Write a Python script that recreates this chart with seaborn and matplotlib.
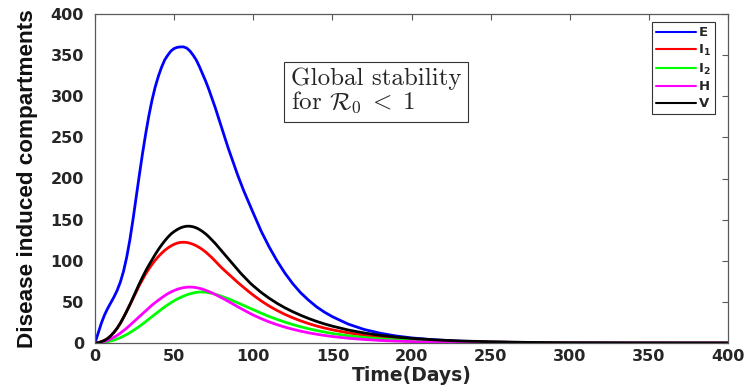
import numpy as np
import pandas as pd
import matplotlib
matplotlib.use("Agg")
import matplotlib.pyplot as plt
import seaborn as sns
from matplotlib.lines import Line2D

# ---- data ----
t = [0, 2, 4, 6, 8, 10, 12, 14, 16, 18,
     20, 22, 24, 26, 28, 30, 32, 34, 36, 38,
     40, 42, 44, 46, 48, 50, 52, 54, 56, 58,
     60, 62, 64, 66, 68, 70, 72, 74, 76, 78,
     80, 82, 84, 86, 88, 90, 92, 94, 96, 98,
     100, 105, 110, 115, 120, 125, 130, 135, 140, 145,
     150, 160, 170, 180, 190, 200, 215, 230, 250, 275,
     300, 350, 400]
E = [0, 12, 24, 34, 42, 49, 56, 64, 74, 87,
     104, 125, 150, 177, 204, 230, 254, 276, 295, 311,
     324, 335, 344, 350, 355, 358, 359.5, 360, 360, 358.5,
     355, 350, 344, 336, 327, 318, 308, 297, 286, 274,
     262, 250, 238, 227, 216, 205, 195, 185, 176, 167,
     158, 136, 117, 100, 85, 72, 61, 52, 44, 37.5,
     32, 23, 16.5, 12, 8.6, 6.2, 3.8, 2.3, 1.1, 0.45,
     0.2, 0.04, 0]
I1 = [0, 0.4, 1.5, 3.2, 5.5, 8.8, 13, 18, 24, 31,
      38.5, 46, 54, 62, 70, 77, 84, 90, 95.5, 100.5,
      105, 109, 112.5, 115.5, 118, 120, 121.5, 122.3, 122.5, 122.2,
      121.3, 120, 118.2, 116, 113.5, 110.5, 107, 103.5, 99.5, 95.5,
      91.5, 88, 84.5, 81, 77.5, 74, 70.7, 67.5, 64.3, 61.2,
      58.2, 51.2, 45, 39.6, 34.8, 30.6, 26.9, 23.6, 20.7, 18.2,
      16, 12.3, 9.5, 7.3, 5.6, 4.3, 2.9, 1.9, 1.1, 0.5,
      0.22, 0.04, 0]
I2 = [0, 0.1, 0.4, 0.9, 1.6, 2.5, 3.6, 5, 6.5, 8.3,
      10.3, 12.5, 15, 17.5, 20.2, 23, 26, 29, 32, 35,
      38, 41, 43.8, 46.5, 49, 51.3, 53.5, 55.3, 57, 58.5,
      59.8, 60.8, 61.5, 62, 62, 61.7, 61.1, 60.3, 59.3, 58.1,
      56.8, 55.4, 53.9, 52.3, 50.7, 49, 47.3, 45.6, 43.9, 42.2,
      40.5, 36.3, 32.3, 28.7, 25.4, 22.4, 19.7, 17.3, 15.2, 13.3,
      11.6, 8.8, 6.7, 5.1, 3.8, 2.9, 1.9, 1.2, 0.7, 0.3,
      0.13, 0.02, 0]
H = [0, 0.3, 1.0, 2.0, 3.3, 5, 7, 9.3, 12, 15,
     18, 21.5, 25, 28.5, 32, 35.5, 39, 42.5, 46, 49,
     52, 54.8, 57.5, 60, 62, 63.8, 65.3, 66.5, 67.3, 67.8,
     68, 67.8, 67.3, 66.5, 65.4, 64, 62.5, 60.8, 59, 57,
     55, 53, 50.8, 48.7, 46.5, 44.3, 42.2, 40.1, 38, 36,
     34, 29.6, 25.7, 22.3, 19.3, 16.7, 14.4, 12.4, 10.7, 9.2,
     7.9, 5.8, 4.3, 3.1, 2.3, 1.7, 1.0, 0.6, 0.3, 0.12,
     0.05, 0.01, 0]
V = [0, 0.4, 1.5, 3.2, 5.5, 8.8, 13, 18, 24, 31,
     38.5, 46.5, 55, 63.5, 72, 80, 87.5, 94.5, 101, 107.5,
     113.5, 119, 124, 128.5, 132.5, 135.5, 138, 140, 141.3, 142,
     142, 141.3, 140, 138, 135.5, 132.5, 129, 125, 121, 116.5,
     112, 107.5, 103, 98.5, 94, 89.5, 85, 81, 77, 73,
     69.5, 61.5, 54.5, 48.3, 42.8, 38, 33.7, 29.8, 26.3, 23.2,
     20.5, 15.8, 12.2, 9.4, 7.3, 5.6, 3.8, 2.5, 1.5, 0.7,
     0.3, 0.06, 0]

names = ["E", "I1", "I2", "H", "V"]
labels = ["E", r"I$_\mathbf{1}$", r"I$_\mathbf{2}$", "H", "V"]
colors = ["#0000ff", "#ff0000", "#00ff00", "#ff00ff", "#000000"]
xticks = [0, 50, 100, 150, 200, 250, 300, 350, 400]
yticks = [0, 50, 100, 150, 200, 250, 300, 350, 400]

df = pd.DataFrame({
    "t": np.tile(t, len(names)),
    "value": np.concatenate([E, I1, I2, H, V]),
    "comp": np.repeat(names, len(t)),
})

sns.set_style("white")
plt.rcParams["font.family"] = ["DejaVu Sans"]
plt.rcParams["mathtext.fontset"] = "dejavusans"

fig = plt.figure(figsize=(7.45, 3.87), dpi=100)
ax = fig.add_axes([95 / 745, 44 / 387, 633 / 745, 329 / 387])

sns.lineplot(data=df, x="t", y="value", hue="comp", hue_order=names,
             palette=dict(zip(names, colors)), linewidth=2.0, ax=ax,
             legend=False, sort=False)

ax.set_xlim(0, 400)
ax.set_ylim(0, 400)
ax.set_xticks(xticks)
ax.set_yticks(yticks)
ax.set_xticklabels([str(v) for v in xticks], fontweight="bold", fontsize=11.5, color="#262626")
ax.set_yticklabels([str(v) for v in yticks], fontweight="bold", fontsize=11.5, color="#262626")
ax.tick_params(direction="in", length=4, width=0.8, color="0.35",
               top=True, right=True)
ax.tick_params(axis="y", pad=8)
ax.tick_params(axis="x", pad=4)
for s in ax.spines.values():
    s.set_color("0.35")
    s.set_linewidth(0.9)
    s.set_visible(True)

ax.set_xlabel("Time(Days)", fontweight="bold", fontsize=13.5, color="#262626", labelpad=2)
ax.set_ylabel("Disease induced compartments", fontweight="bold", fontsize=16.2,
              color="#111111", labelpad=9,
              family=["Liberation Sans Narrow", "Liberation Sans", "DejaVu Sans"])

handles = [Line2D([], [], color=c, lw=1.5) for c in colors]
leg = ax.legend(handles, labels, loc="upper right", bbox_to_anchor=(0.98, 0.975),
                frameon=True, fancybox=False, framealpha=1, edgecolor="0.2",
                handlelength=3.0, handletextpad=0.2, labelspacing=0.28,
                borderpad=0.3, borderaxespad=0.0,
                prop={"weight": "bold", "size": 9.5})
leg.get_frame().set_linewidth(0.8)

ax.text(0.444, 0.765, "Global stability\nfor $\\mathcal{R}_0\\;<\\;1$",
        transform=ax.transAxes, ha="center", va="center", ma="left",
        fontsize=18, family="cmr10", math_fontfamily="cm", linespacing=1.0,
        bbox=dict(boxstyle="square,pad=0.28", facecolor="white", edgecolor="0.2", linewidth=0.8))

fig.savefig("out.png", dpi=100)
